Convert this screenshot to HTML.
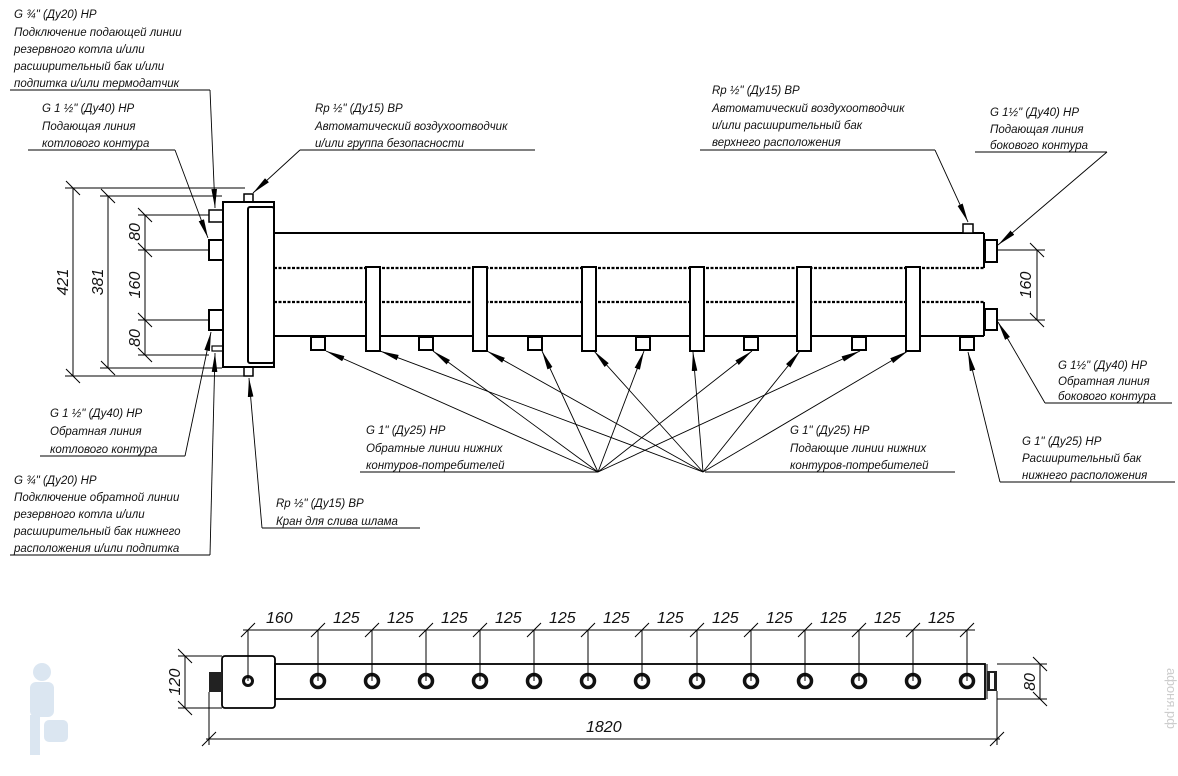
<!DOCTYPE html>
<html><head><meta charset="utf-8"><style>
html,body{margin:0;padding:0;background:#fff;}
svg{display:block;}
text{font-family:"Liberation Sans","DejaVu Sans",sans-serif;font-style:italic;fill:#111;}
.l{font-size:11.5px;}
.d{font-size:16px;fill:#333;}
</style></head><body>
<svg width="1178" height="776" viewBox="0 0 1178 776" xmlns="http://www.w3.org/2000/svg">
<defs>
<marker id="a" markerWidth="20" markerHeight="8" refX="19" refY="4" orient="auto" markerUnits="userSpaceOnUse">
<path d="M0,1.2 L19,4 L0,6.8 Z" fill="#000"/></marker>
</defs>
<g fill="none" stroke="#000" stroke-width="2">
<!-- hydro separator -->
<rect x="223" y="202" width="51" height="165" fill="#fff"/>
<rect x="248" y="207" width="26" height="156" rx="2"/>
<rect x="244" y="194" width="9" height="8" stroke-width="1.5"/>
<rect x="244" y="367" width="9" height="9" stroke-width="1.5"/>
<rect x="209" y="210" width="14" height="12" stroke-width="1.5"/>
<rect x="209" y="240" width="14" height="20"/>
<rect x="209" y="310" width="14" height="20"/>
<rect x="212" y="346" width="11" height="5" stroke-width="1.2"/>
<!-- pipes -->
<line x1="274" y1="233" x2="984" y2="233"/>
<line x1="274" y1="336" x2="984" y2="336"/>
<line x1="984" y1="233" x2="984" y2="268"/>
<line x1="984" y1="302" x2="984" y2="336"/>
</g>
<g fill="none" stroke="#000" stroke-width="2.2" stroke-dasharray="3 1.5">
<line x1="274" y1="268" x2="984" y2="268"/>
<line x1="274" y1="302" x2="984" y2="302"/>
</g>
<g fill="#fff" stroke="#000" stroke-width="2">
<rect x="366" y="267" width="14" height="84"/>
<rect x="473" y="267" width="14" height="84"/>
<rect x="582" y="267" width="14" height="84"/>
<rect x="690" y="267" width="14" height="84"/>
<rect x="797" y="267" width="14" height="84"/>
<rect x="906" y="267" width="14" height="84"/>
<rect x="311" y="337" width="14" height="13"/>
<rect x="419" y="337" width="14" height="13"/>
<rect x="528" y="337" width="14" height="13"/>
<rect x="636" y="337" width="14" height="13"/>
<rect x="744" y="337" width="14" height="13"/>
<rect x="852" y="337" width="14" height="13"/>
<rect x="960" y="337" width="14" height="13"/>
<rect x="963" y="224" width="10" height="9" stroke-width="1.5"/>
<rect x="985" y="240" width="12" height="22"/>
<rect x="985" y="309" width="12" height="21"/>
</g>
<!-- dimensions left -->
<g stroke="#000" stroke-width="1" fill="none">
<line x1="65" y1="188" x2="245" y2="188"/><line x1="65" y1="376" x2="245" y2="376"/>
<line x1="100" y1="196" x2="222" y2="196"/><line x1="100" y1="368" x2="222" y2="368"/>
<line x1="138" y1="215" x2="209" y2="215"/><line x1="138" y1="250" x2="209" y2="250"/>
<line x1="138" y1="320" x2="209" y2="320"/><line x1="138" y1="355" x2="209" y2="355"/>
<line x1="73" y1="188" x2="73" y2="376"/><line x1="108" y1="196" x2="108" y2="368"/>
<line x1="145" y1="215" x2="145" y2="355"/>
<path d="M66,181 L80,195 M66,369 L80,383 M101,189 L115,203 M101,361 L115,375 M138,208 L152,222 M138,243 L152,257 M138,313 L152,327 M138,348 L152,362"/>
<line x1="997" y1="250" x2="1045" y2="250"/><line x1="997" y1="320" x2="1045" y2="320"/>
<line x1="1037" y1="250" x2="1037" y2="320"/>
<path d="M1030,243 L1044,257 M1030,313 L1044,327"/>
</g>
<g class="d">
<text transform="translate(68,282) rotate(-90)" text-anchor="middle">421</text>
<text transform="translate(103,282) rotate(-90)" text-anchor="middle">381</text>
<text transform="translate(140,232) rotate(-90)" text-anchor="middle">80</text>
<text transform="translate(140,285) rotate(-90)" text-anchor="middle">160</text>
<text transform="translate(140,338) rotate(-90)" text-anchor="middle">80</text>
<text transform="translate(1031,285) rotate(-90)" text-anchor="middle">160</text>
</g>
<!-- leaders -->
<g stroke="#000" stroke-width="0.9" fill="none" marker-end="url(#a)">
<line x1="210" y1="90" x2="215" y2="208"/>
<line x1="175" y1="150" x2="208" y2="238"/>
<line x1="300" y1="150" x2="253" y2="193"/>
<line x1="935" y1="150" x2="968" y2="222"/>
<line x1="1107" y1="152" x2="998" y2="245"/>
<line x1="1045" y1="403" x2="998" y2="322"/>
<line x1="1000" y1="482" x2="968" y2="352"/>
<line x1="185" y1="456" x2="211" y2="332"/>
<line x1="210" y1="555" x2="215" y2="353"/>
<line x1="262" y1="528" x2="249" y2="378"/>
<line x1="598" y1="472" x2="326" y2="351"/>
<line x1="598" y1="472" x2="433" y2="351"/>
<line x1="598" y1="472" x2="542" y2="351"/>
<line x1="598" y1="472" x2="644" y2="351"/>
<line x1="598" y1="472" x2="752" y2="351"/>
<line x1="598" y1="472" x2="860" y2="351"/>
<line x1="703" y1="472" x2="380" y2="351"/>
<line x1="703" y1="472" x2="487" y2="351"/>
<line x1="703" y1="472" x2="594" y2="351"/>
<line x1="703" y1="472" x2="693" y2="352"/>
<line x1="703" y1="472" x2="800" y2="351"/>
<line x1="703" y1="472" x2="908" y2="351"/>
</g>
<g stroke="#000" stroke-width="1">
<line x1="10" y1="90" x2="210" y2="90"/>
<line x1="28" y1="150" x2="175" y2="150"/>
<line x1="300" y1="150" x2="535" y2="150"/>
<line x1="700" y1="150" x2="935" y2="150"/>
<line x1="975" y1="152" x2="1107" y2="152"/>
<line x1="1045" y1="403" x2="1172" y2="403"/>
<line x1="1000" y1="482" x2="1175" y2="482"/>
<line x1="705" y1="472" x2="955" y2="472"/>
<line x1="360" y1="472" x2="598" y2="472"/>
<line x1="40" y1="456" x2="185" y2="456"/>
<line x1="10" y1="555" x2="210" y2="555"/>
<line x1="262" y1="528" x2="420" y2="528"/>
</g>
<g class="l">
<text x="14" y="18">G ¾" (Ду20) НР</text>
<text x="14" y="36">Подключение подающей линии</text>
<text x="14" y="53">резервного котла и/или</text>
<text x="14" y="70">расширительный бак и/или</text>
<text x="14" y="87">подпитка и/или термодатчик</text>
<text x="42" y="112">G 1 ½" (Ду40) НР</text>
<text x="42" y="130">Подающая линия</text>
<text x="42" y="147">котлового контура</text>
<text x="315" y="112">Rp ½" (Ду15) ВР</text>
<text x="315" y="130">Автоматический воздухоотводчик</text>
<text x="315" y="147">и/или группа безопасности</text>
<text x="712" y="94">Rp ½" (Ду15) ВР</text>
<text x="712" y="112">Автоматический воздухоотводчик</text>
<text x="712" y="129">и/или расширительный бак</text>
<text x="712" y="146">верхнего расположения</text>
<text x="990" y="116">G 1½" (Ду40) НР</text>
<text x="990" y="133">Подающая линия</text>
<text x="990" y="149">бокового контура</text>
<text x="1058" y="369">G 1½" (Ду40) НР</text>
<text x="1058" y="385">Обратная линия</text>
<text x="1058" y="400">бокового контура</text>
<text x="1022" y="445">G 1" (Ду25) НР</text>
<text x="1022" y="462">Расширительный бак</text>
<text x="1022" y="479">нижнего расположения</text>
<text x="790" y="434">G 1" (Ду25) НР</text>
<text x="790" y="452">Подающие линии нижних</text>
<text x="790" y="469">контуров-потребителей</text>
<text x="366" y="434">G 1" (Ду25) НР</text>
<text x="366" y="452">Обратные линии нижних</text>
<text x="366" y="469">контуров-потребителей</text>
<text x="50" y="417">G 1 ½" (Ду40) НР</text>
<text x="50" y="435">Обратная линия</text>
<text x="50" y="453">котлового контура</text>
<text x="14" y="484">G ¾" (Ду20) НР</text>
<text x="14" y="501">Подключение обратной линии</text>
<text x="14" y="518">резервного котла и/или</text>
<text x="14" y="535">расширительный бак нижнего</text>
<text x="14" y="552">расположения и/или подпитка</text>
<text x="276" y="507">Rp ½" (Ду15) ВР</text>
<text x="276" y="525">Кран для слива шлама</text>
</g>
<!-- bottom view -->
<g fill="none" stroke="#000" stroke-width="1.8">
<rect x="222" y="656" width="53" height="52" rx="3"/>
<rect x="275" y="664" width="710" height="35"/>
<line x1="987" y1="664" x2="987" y2="699" stroke-width="1"/>
</g>
<rect x="209" y="672" width="13" height="20" fill="#222"/>
<rect x="987" y="671" width="10" height="20" fill="#222"/>
<rect x="990" y="673" width="4" height="16" fill="#fff"/>
<g fill="none" stroke="#111">
<circle cx="248" cy="681" r="4.5" stroke-width="3"/>
<circle cx="318" cy="681" r="6.5" stroke-width="3.5"/><circle cx="372" cy="681" r="6.5" stroke-width="3.5"/>
<circle cx="426" cy="681" r="6.5" stroke-width="3.5"/><circle cx="480" cy="681" r="6.5" stroke-width="3.5"/>
<circle cx="534" cy="681" r="6.5" stroke-width="3.5"/><circle cx="588" cy="681" r="6.5" stroke-width="3.5"/>
<circle cx="642" cy="681" r="6.5" stroke-width="3.5"/><circle cx="697" cy="681" r="6.5" stroke-width="3.5"/>
<circle cx="751" cy="681" r="6.5" stroke-width="3.5"/><circle cx="805" cy="681" r="6.5" stroke-width="3.5"/>
<circle cx="859" cy="681" r="6.5" stroke-width="3.5"/><circle cx="913" cy="681" r="6.5" stroke-width="3.5"/>
<circle cx="967" cy="681" r="6.5" stroke-width="3.5"/>
</g>
<g stroke="#000" stroke-width="1" fill="none">
<line x1="243" y1="630" x2="975" y2="630"/>
<path d="M248,630V681 M318,630V681 M372,630V681 M426,630V681 M480,630V681 M534,630V681 M588,630V681 M642,630V681 M697,630V681 M751,630V681 M805,630V681 M859,630V681 M913,630V681 M967,630V681"/>
<path d="M241,637l14,-14 M311,637l14,-14 M365,637l14,-14 M419,637l14,-14 M473,637l14,-14 M527,637l14,-14 M581,637l14,-14 M635,637l14,-14 M690,637l14,-14 M744,637l14,-14 M798,637l14,-14 M852,637l14,-14 M906,637l14,-14 M960,637l14,-14"/>
<line x1="178" y1="656" x2="222" y2="656"/><line x1="178" y1="708" x2="222" y2="708"/>
<line x1="185" y1="656" x2="185" y2="708"/>
<path d="M178,649l14,14 M178,701l14,14"/>
<line x1="997" y1="664" x2="1047" y2="664"/><line x1="997" y1="699" x2="1047" y2="699"/>
<line x1="1040" y1="664" x2="1040" y2="699"/>
<path d="M1033,657l14,14 M1033,692l14,14"/>
<line x1="209" y1="692" x2="209" y2="745"/><line x1="997" y1="691" x2="997" y2="745"/>
<line x1="206" y1="739" x2="1000" y2="739"/>
<path d="M202,746l14,-14 M990,746l14,-14"/>
</g>
<g class="d">
<text x="266" y="623">160</text>
<text x="333" y="623">125</text><text x="387" y="623">125</text><text x="441" y="623">125</text>
<text x="495" y="623">125</text><text x="549" y="623">125</text><text x="603" y="623">125</text>
<text x="657" y="623">125</text><text x="712" y="623">125</text><text x="766" y="623">125</text>
<text x="820" y="623">125</text><text x="874" y="623">125</text><text x="928" y="623">125</text>
<text x="586" y="732">1820</text>
<text transform="translate(180,682) rotate(-90)" text-anchor="middle">120</text>
<text transform="translate(1035,682) rotate(-90)" text-anchor="middle">80</text>
</g>
<!-- watermark -->
<g opacity="0.35" fill="#9ab8d8">
<circle cx="42" cy="672" r="9"/>
<rect x="30" y="682" width="24" height="35" rx="6"/>
<rect x="30" y="715" width="10" height="40"/>
<rect x="44" y="720" width="24" height="22" rx="5"/>
</g>
<text transform="translate(1167,668) rotate(90)" style="font-size:13px;font-style:normal;fill:#ccc;">афоня.рф</text>
</svg>
</body></html>
